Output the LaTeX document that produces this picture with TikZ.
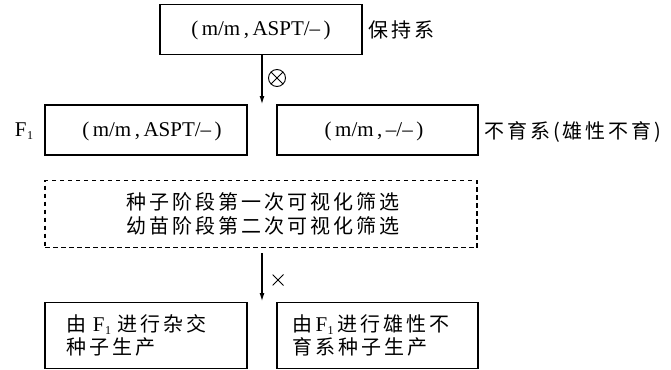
\documentclass[tikz,border=0pt]{standalone}
\usepackage{fontspec}
\setmainfont{Liberation Serif}
\newfontfamily\cjk[LetterSpace=15]{Noto Sans CJK SC}
\usetikzlibrary{arrows.meta}
\tikzset{
  box/.style={draw, line width=1.4pt, inner sep=0pt, minimum width=202pt, minimum height=50pt},
  dbox/.style={draw, line width=1.3pt, dash pattern=on 4.5pt off 3.5pt, inner sep=0pt, minimum width=432pt, minimum height=67pt},
  arr/.style={line width=1.1pt, -{Latex[length=8pt,width=5pt]}},
  gen/.style={font=\fontsize{21}{24}\selectfont, inner sep=0pt},
  lab/.style={font=\fontsize{20}{22}\selectfont\cjk, inner sep=0pt},
  twol/.style={font=\fontsize{20}{23.5}\selectfont\cjk, inner sep=0pt},
  otimesmark/.style={circle, draw, line width=0.9pt, minimum size=17pt, inner sep=0pt,
    path picture={\draw[line width=0.9pt] (path picture bounding box.north west) -- (path picture bounding box.south east)
                   (path picture bounding box.north east) -- (path picture bounding box.south west);}},
  timesmark/.style={minimum size=11pt, inner sep=0pt,
    path picture={\draw[line width=1pt] (path picture bounding box.north west) -- (path picture bounding box.south east)
                   (path picture bounding box.north east) -- (path picture bounding box.south west);}}
}
\newcommand{\Fone}{{\rmfamily\fontsize{21}{23}\selectfont F\kern0.5pt\raisebox{-3pt}{\fontsize{12}{12}\selectfont 1}}}
\begin{document}
\begin{tikzpicture}[x=1pt,y=-1pt]
\useasboundingbox (0,0) rectangle (671,369);
% top
\node[box] (top) at (261,29.5) {};
\node[gen] (topt) at (261,30) {(\,m/m\,,\,ASPT/–\,)};
\node[lab, anchor=west] (bao) at (368,30) {保持系};
% row 2
\node[gen] (f1) at (24,131) {\Fone};
\node[box] (b2) at (146,130) {};
\node[gen] (b2t) at (152,131) {(\,m/m\,,\,ASPT/–\,)};
\node[box, minimum width=201pt] (b3) at (377.5,130) {};
\node[gen] (b3t) at (374,131) {(\,m/m\,,\,–/–\,)};
\node[lab, anchor=west] (buyu) at (484,132) {不育系(雄性不育)};
% arrow 1
\coordinate (a1) at (262,104);
\draw[arr] (top.south -| a1) -- (a1);
\node[otimesmark] (ox) at (277,78) {};
% dashed
\node[dbox] (scr) at (261,214) {};
\node[twol, align=center] (scrt) at (263,214) {种子阶段第一次可视化筛选\\幼苗阶段第二次可视化筛选};
% arrow 2
\coordinate (a2s) at (262,253);
\coordinate (a2e) at (262,301);
\draw[arr] (a2s) -- (a2e);
\node[timesmark] (x2) at (278,280) {};
% bottom
\node[box, minimum height=66pt] (bl) at (146,335.5) {};
\node[box, minimum height=66pt, minimum width=201pt] (br) at (377.5,335.5) {};
\node[twol, align=left, anchor=north west] (blt) at (66,314) {由\,\,\Fone\,\,进行杂交\\种子生产};
\node[twol, align=left, anchor=north west] (brt) at (292,314) {由\,\Fone\,进行雄性不\\育系种子生产};
\end{tikzpicture}
\end{document}
